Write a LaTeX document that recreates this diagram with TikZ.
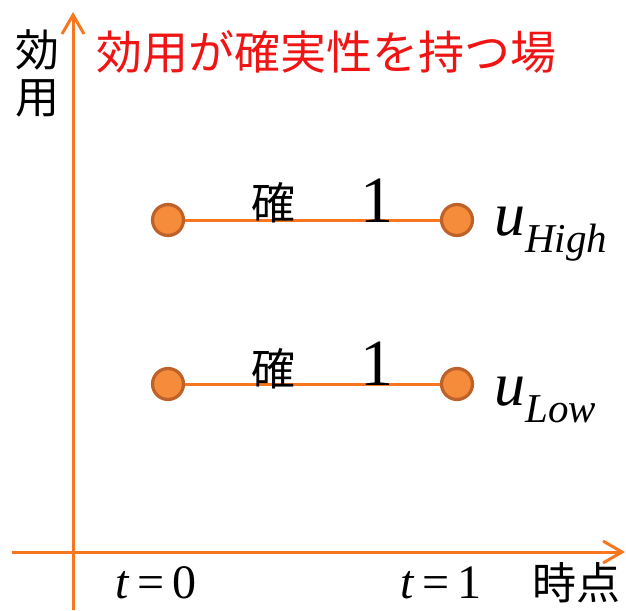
\documentclass[tikz,border=0pt]{standalone}
\usepackage{fontspec}
\setmainfont{Liberation Serif}
\newfontfamily\jpfont{Noto Sans CJK JP}
\usetikzlibrary{arrows.meta}
\definecolor{axisorange}{RGB}{247,118,30}
\definecolor{dotfill}{RGB}{245,140,60}
\definecolor{dotdraw}{RGB}{190,98,42}
\definecolor{titlered}{RGB}{240,20,20}
\tikzset{
  axisline/.style={draw=axisorange, line width=3pt, -{Straight Barb[length=19pt,width=22pt,line width=3pt]}},
  linkline/.style={draw=axisorange, line width=3pt},
  dotnode/.style={circle, fill=dotfill, draw=dotdraw, line width=3.2pt, minimum size=31pt, inner sep=0pt},
  jptext/.style={font=\jpfont\fontsize{44}{44}\selectfont, inner sep=0pt},
  onetext/.style={font=\fontsize{66}{66}\selectfont, inner sep=0pt, anchor=base},
  tlabel/.style={font=\fontsize{48}{48}\selectfont, inner sep=0pt, anchor=base},
  ulabel/.style={inner sep=0pt, anchor=base west},
}
\newcommand{\ulab}[1]{{\fontsize{62}{62}\selectfont\itshape u}\raisebox{-17pt}{\fontsize{41}{41}\selectfont\itshape #1}}
\begin{document}
\begin{tikzpicture}[x=1pt,y=-1pt]
\useasboundingbox (0,0) rectangle (626,610);
% axes
\coordinate (yb) at (73,610);
\coordinate (yt) at (73,12);
\coordinate (xl) at (12,552);
\coordinate (xr) at (625,552);
\draw[axisline] (yb) -- (yt);
\draw[axisline] (xl) -- (xr);
% axis labels
\node[jptext] (yl1) at (38,50) {効};
\node[jptext] (yl2) at (38,98) {用};
\node[jptext] (xlab) at (576,583) {時点};
\node[jptext, text=titlered, font=\jpfont\fontsize{46}{46}\selectfont] (title) at (326,52) {効用が確実性を持つ場};
% high line
\node[dotnode] (h0) at (168,220) {};
\node[dotnode] (h1) at (457,220) {};
\draw[linkline] (h0) -- (h1);
\node[jptext] (hk) at (273,203) {確};
\node[onetext] (h1t) at (377,222) {1};
\node[ulabel] (uh) at (494,235) {\ulab{High}};
% low line
\node[dotnode] (l0) at (168,384) {};
\node[dotnode] (l1) at (457,384) {};
\draw[linkline] (l0) -- (l1);
\node[jptext] (lk) at (273,369) {確};
\node[onetext] (l1t) at (377,385) {1};
\node[ulabel] (ul) at (494,405) {\ulab{Low}};
% time labels
\node[tlabel] (t0) at (156,598) {\textit{t}\kern8pt=\kern8pt0};
\node[tlabel] (t1) at (441,598) {\textit{t}\kern8pt=\kern8pt1};
\end{tikzpicture}
\end{document}
